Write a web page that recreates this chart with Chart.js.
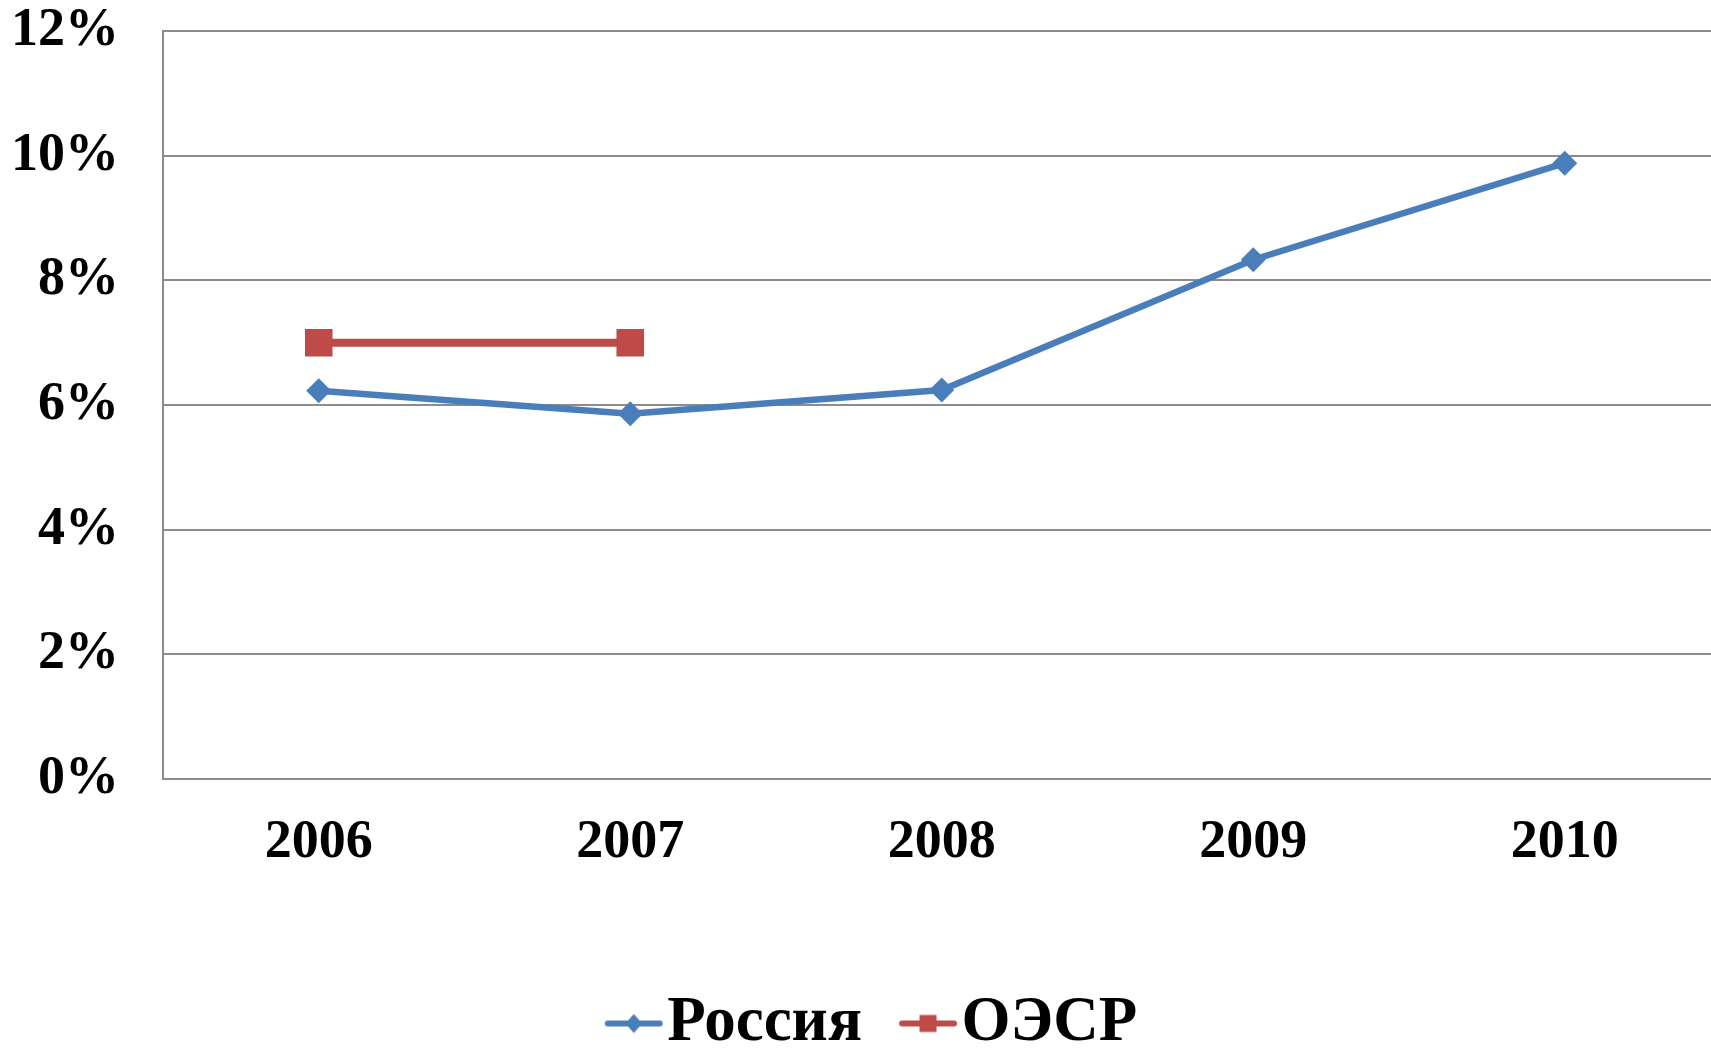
<!DOCTYPE html>
<html lang="ru">
<head>
<meta charset="utf-8">
<title>Россия и ОЭСР</title>
<script src="https://cdn.jsdelivr.net/npm/chart.js@4.4.1/dist/chart.umd.min.js"></script>
<style>
    html, body { margin: 0; padding: 0; background: #fff; overflow: hidden; }
    #wrap { width: 1740px; height: 1065px; position: relative; }
</style>
</head>
<body>
<div id="wrap"><canvas id="grafico"></canvas></div>
<script>
// data (percent)
const years = ['2006', '2007', '2008', '2009', '2010'];
const russia = [6.23, 5.86, 6.24, 8.33, 9.88];
const oecd = [7.0, 7.0, null, null, null];
const seriesNames = ['Россия', 'ОЭСР'];
const seriesColors = ['#4a7ebb', '#be4b48'];

const fontFamily = '"Liberation Serif", "Times New Roman", serif';
const gridColor = '#8c8c8c';

// little line+marker icons for the legend, like in Excel
function legendIcon(color, shape) {
    const c = document.createElement('canvas');
    c.width = 60;
    c.height = 24;
    const g = c.getContext('2d');
    g.strokeStyle = color;
    g.fillStyle = color;
    g.lineWidth = 6;
    g.lineCap = 'round';
    g.beginPath();
    g.moveTo(4, 12);
    g.lineTo(56, 12);
    g.stroke();
    g.beginPath();
    if (shape === 'diamond') {
        g.moveTo(30, 2.5);
        g.lineTo(38.5, 12);
        g.lineTo(30, 21.5);
        g.lineTo(21.5, 12);
        g.closePath();
    } else {
        g.rect(21.5, 3.5, 17, 17);
    }
    g.fill();
    return c;
}

const icons = [legendIcon(seriesColors[0], 'diamond'), legendIcon(seriesColors[1], 'square')];

// the legend sits a bit right of the canvas centre in the original
const legendShift = {
    id: 'legendShift',
    afterLayout(chart) {
        chart.legend.left += 8;
        chart.legend.right += 8;
    }
};

const ctx = document.getElementById('grafico');

const chart = new Chart(ctx, {
    type: 'line',
    data: {
        labels: years,
        datasets: [{
            label: seriesNames[0],
            data: russia,
            borderColor: seriesColors[0],
            backgroundColor: seriesColors[0],
            borderWidth: 6.5,
            pointStyle: 'rectRot',
            pointRadius: 12.5,
            pointBorderWidth: 0,
            fill: false
        }, {
            label: seriesNames[1],
            data: oecd,
            borderColor: seriesColors[1],
            backgroundColor: seriesColors[1],
            borderWidth: 8,
            pointStyle: 'rect',
            pointRadius: 19.5,
            pointBorderWidth: 0,
            spanGaps: false,
            fill: false
        }]
    },
    plugins: [legendShift],
    options: {
        responsive: true,
        maintainAspectRatio: false,
        animation: false,
        devicePixelRatio: 1,
        layout: {
            padding: { left: 13, right: 0, top: 0, bottom: 0 }
        },
        scales: {
            x: {
                offset: true,
                grid: { display: false },
                border: { display: true, color: gridColor, width: 2 },
                ticks: {
                    color: '#000',
                    padding: 24,
                    font: { family: fontFamily, size: 54, weight: 'bold' }
                },
                afterFit: function (scale) {
                    scale.height = 149;
                    scale.paddingLeft = 0;
                    scale.paddingRight = 0;
                }
            },
            y: {
                min: 0,
                max: 12,
                grid: { color: gridColor, lineWidth: 2, drawTicks: false },
                border: { display: true, color: gridColor, width: 2 },
                ticks: {
                    stepSize: 2,
                    color: '#000',
                    padding: 44,
                    font: { family: fontFamily, size: 54, weight: 'bold' },
                    callback: function (value) {
                        return value + '%';
                    }
                },
                afterFit: function (scale) {
                    scale.width = 150;
                    scale.paddingTop = 31;
                    scale.paddingBottom = 31;
                }
            }
        },
        plugins: {
            tooltip: { enabled: false },
            legend: {
                position: 'bottom',
                labels: {
                    usePointStyle: true,
                    pointStyleWidth: 4,
                    padding: 64,
                    color: '#000',
                    font: { family: fontFamily, size: 63, weight: 'bold' },
                    generateLabels: function (chart) {
                        return chart.data.datasets.map((ds, i) => ({
                            text: ds.label,
                            pointStyle: icons[i],
                            datasetIndex: i,
                            fontColor: '#000',
                            fillStyle: ds.borderColor,
                            strokeStyle: ds.borderColor,
                            lineWidth: 0,
                            hidden: false
                        }));
                    }
                }
            }
        }
    }
});
</script>
</body>
</html>
